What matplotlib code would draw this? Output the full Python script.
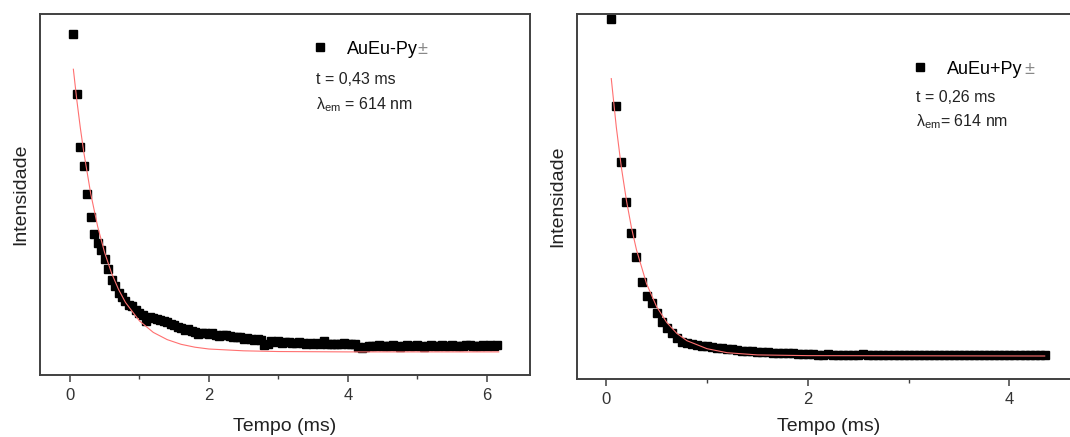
import matplotlib
matplotlib.use("Agg")
import matplotlib.pyplot as plt
from matplotlib.ticker import FixedLocator

plt.rcParams['font.family'] = ['Liberation Sans', 'DejaVu Sans']

# ---------------- data (relative intensity, arbitrary units) ----------------
# Left panel: AuEu-Py±  (time in ms)
t_left = [0.05, 0.10, 0.15, 0.20, 0.25, 0.30, 0.35, 0.40, 0.45, 0.50,
          0.55, 0.60, 0.65, 0.70, 0.75, 0.80, 0.85, 0.90, 0.95, 1.00,
          1.05, 1.10, 1.15, 1.20, 1.25, 1.30, 1.35, 1.40, 1.45, 1.50,
          1.55, 1.60, 1.65, 1.70, 1.75, 1.80, 1.85, 1.90, 1.95, 2.00,
          2.05, 2.10, 2.15, 2.20, 2.25, 2.30, 2.35, 2.40, 2.45, 2.50,
          2.55, 2.60, 2.65, 2.70, 2.75, 2.80, 2.85, 2.90, 2.95, 3.00,
          3.05, 3.10, 3.15, 3.20, 3.25, 3.30, 3.35, 3.40, 3.45, 3.50,
          3.55, 3.60, 3.65, 3.70, 3.75, 3.80, 3.85, 3.90, 3.95, 4.00,
          4.05, 4.10, 4.15, 4.20, 4.25, 4.30, 4.35, 4.40, 4.45, 4.50,
          4.55, 4.60, 4.65, 4.70, 4.75, 4.80, 4.85, 4.90, 4.95, 5.00,
          5.05, 5.10, 5.15, 5.20, 5.25, 5.30, 5.35, 5.40, 5.45, 5.50,
          5.55, 5.60, 5.65, 5.70, 5.75, 5.80, 5.85, 5.90, 5.95, 6.00,
          6.05, 6.10, 6.15]
i_left = [0.945, 0.779, 0.632, 0.580, 0.501, 0.439, 0.390, 0.367, 0.346, 0.320,
          0.295, 0.263, 0.247, 0.228, 0.216, 0.204, 0.195, 0.190, 0.180, 0.173,
          0.166, 0.150, 0.160, 0.158, 0.155, 0.152, 0.150, 0.146, 0.142, 0.138,
          0.134, 0.131, 0.126, 0.128, 0.122, 0.119, 0.114, 0.116, 0.117, 0.113,
          0.115, 0.110, 0.108, 0.112, 0.110, 0.108, 0.106, 0.104, 0.105, 0.101,
          0.103, 0.100, 0.097, 0.099, 0.096, 0.084, 0.085, 0.094, 0.092, 0.093,
          0.090, 0.092, 0.091, 0.090, 0.089, 0.091, 0.088, 0.087, 0.089, 0.086,
          0.088, 0.085, 0.093, 0.087, 0.086, 0.085, 0.087, 0.086, 0.088, 0.087,
          0.086, 0.085, 0.077, 0.076, 0.078, 0.080, 0.081, 0.079, 0.082, 0.080,
          0.081, 0.079, 0.083, 0.080, 0.078, 0.081, 0.082, 0.079, 0.080, 0.083,
          0.081, 0.078, 0.080, 0.082, 0.079, 0.081, 0.083, 0.080, 0.079, 0.082,
          0.080, 0.081, 0.079, 0.082, 0.084, 0.080, 0.079, 0.081, 0.083, 0.080,
          0.082, 0.081, 0.083]
fit_t_left = [0.05, 0.10, 0.15, 0.20, 0.30, 0.40, 0.50, 0.60, 0.70, 0.80,
              1.00, 1.20, 1.40, 1.60, 1.80, 2.00, 2.50, 3.00, 4.00, 6.17]
fit_i_left = [0.847, 0.761, 0.685, 0.617, 0.502, 0.411, 0.339, 0.282, 0.237, 0.201,
              0.150, 0.118, 0.098, 0.085, 0.077, 0.072, 0.067, 0.065, 0.064, 0.064]

# Right panel: AuEu+Py±
t_right = [0.05, 0.10, 0.15, 0.20, 0.25, 0.30, 0.35, 0.40, 0.45, 0.50,
           0.55, 0.60, 0.65, 0.70, 0.75, 0.80, 0.85, 0.90, 0.95, 1.00,
           1.05, 1.10, 1.15, 1.20, 1.25, 1.30, 1.35, 1.40, 1.45, 1.50,
           1.55, 1.60, 1.65, 1.70, 1.75, 1.80, 1.85, 1.90, 1.95, 2.00,
           2.05, 2.10, 2.15, 2.20, 2.25, 2.30, 2.35, 2.40, 2.45, 2.50,
           2.55, 2.60, 2.65, 2.70, 2.75, 2.80, 2.85, 2.90, 2.95, 3.00,
           3.05, 3.10, 3.15, 3.20, 3.25, 3.30, 3.35, 3.40, 3.45, 3.50,
           3.55, 3.60, 3.65, 3.70, 3.75, 3.80, 3.85, 3.90, 3.95, 4.00,
           4.05, 4.10, 4.15, 4.20, 4.25, 4.30, 4.35]
i_right = [0.986, 0.748, 0.594, 0.485, 0.401, 0.334, 0.267, 0.227, 0.207, 0.180,
           0.155, 0.139, 0.125, 0.111, 0.102, 0.098, 0.095, 0.093, 0.091, 0.090,
           0.088, 0.086, 0.085, 0.083, 0.081, 0.079, 0.078, 0.077, 0.076, 0.075,
           0.074, 0.073, 0.072, 0.072, 0.071, 0.070, 0.070, 0.069, 0.069, 0.068,
           0.068, 0.067, 0.067, 0.068, 0.066, 0.067, 0.066, 0.066, 0.067, 0.066,
           0.068, 0.067, 0.066, 0.067, 0.066, 0.067, 0.066, 0.065, 0.066, 0.067,
           0.066, 0.066, 0.067, 0.066, 0.065, 0.066, 0.067, 0.066, 0.066, 0.065,
           0.066, 0.067, 0.066, 0.065, 0.066, 0.066, 0.065, 0.066, 0.066, 0.065,
           0.066, 0.065, 0.066, 0.066, 0.065, 0.066, 0.066]
fit_t_right = [0.05, 0.10, 0.15, 0.20, 0.25, 0.30, 0.40, 0.50, 0.60, 0.70,
               0.80, 1.00, 1.20, 1.50, 2.00, 4.35]
fit_i_right = [0.823, 0.690, 0.580, 0.490, 0.415, 0.354, 0.261, 0.198, 0.155, 0.125,
               0.105, 0.083, 0.072, 0.066, 0.064, 0.063]

panels = [
    dict(t=t_left, i=i_left, ft=fit_t_left, fi=fit_i_left, label="AuEu-Py",
         tau="t = 0,43 ms", lam=r"$\mathregular{λ_{em}}$ = 614 nm",
         xlim=(-0.43, 6.62), major=[0, 2, 4, 6], minor=[1, 3, 5], xpad=11),
    dict(t=t_right, i=i_right, ft=fit_t_right, fi=fit_i_right, label="AuEu+Py",
         tau="t = 0,26 ms", lam=r"$\mathregular{λ_{em}}$= 614 nm",
         xlim=(-0.29, 4.70), major=[0, 2, 4], minor=[1, 3], xpad=8),
]

W, H = 1070, 437
fig = plt.figure(figsize=(W / 100, H / 100), dpi=100)

# axes rectangles in pixels: (left, top, right, bottom)
rects = [(40, 14, 530, 375), (577, 14, 1080, 379)]
# legend / annotation positions in pixels
legend_pos = [(311, 49), (911, 69)]
pm_pos = [(417, 50), (1024, 70)]
tau_pos = [(316, 80), (916, 97)]
lam_pos = [(316, 105), (916, 122)]

spine_col = "#404040"
for k, p in enumerate(panels):
    l, t, r, b = rects[k]
    ax = fig.add_axes([l / W, 1 - b / H, (r - l) / W, (b - t) / H])
    ax.plot(p["ft"], p["fi"], color="#ff7070", lw=0.8, zorder=3)
    h, = ax.plot(p["t"], p["i"], ls="none", marker="s", ms=5.8, color="black",
                 mec="black", zorder=2, label=p["label"])
    ax.set_xlim(*p["xlim"])
    ax.set_ylim(0, 1)
    ax.xaxis.set_major_locator(FixedLocator(p["major"]))
    ax.xaxis.set_minor_locator(FixedLocator(p["minor"]))
    ax.set_yticks([])
    ax.tick_params(axis="x", which="major", direction="out", length=5, width=1.1,
                   color=spine_col, labelsize=12, labelcolor="#333333", pad=4)
    ax.tick_params(axis="x", which="minor", direction="out", length=3, width=1.0,
                   color=spine_col)
    for s in ax.spines.values():
        s.set_color(spine_col)
        s.set_linewidth(1.4)
    ax.set_xlabel("Tempo (ms)", fontsize=14, color="#222222", labelpad=p["xpad"])
    ax.set_ylabel("Intensidade", fontsize=14, color="#222222", labelpad=8)

    lx, ly = legend_pos[k]
    ax.legend(handles=[h], loc="center left",
              bbox_to_anchor=(lx / W, 1 - ly / H),
              bbox_transform=fig.transFigure, frameon=False,
              fontsize=13, handlelength=1.0, handletextpad=1.0,
              borderpad=0, borderaxespad=0, markerscale=1.0)
    fig.text(pm_pos[k][0] / W, 1 - pm_pos[k][1] / H, "\u00b1", fontsize=13,
             color="#888888", ha="left", va="center")
    fig.text(tau_pos[k][0] / W, 1 - tau_pos[k][1] / H, p["tau"], fontsize=11.5,
             color="#222222", ha="left", va="center")
    fig.text(lam_pos[k][0] / W, 1 - lam_pos[k][1] / H, p["lam"], fontsize=11.5,
             color="#222222", ha="left", va="center")

fig.savefig("out.png", dpi=100)
